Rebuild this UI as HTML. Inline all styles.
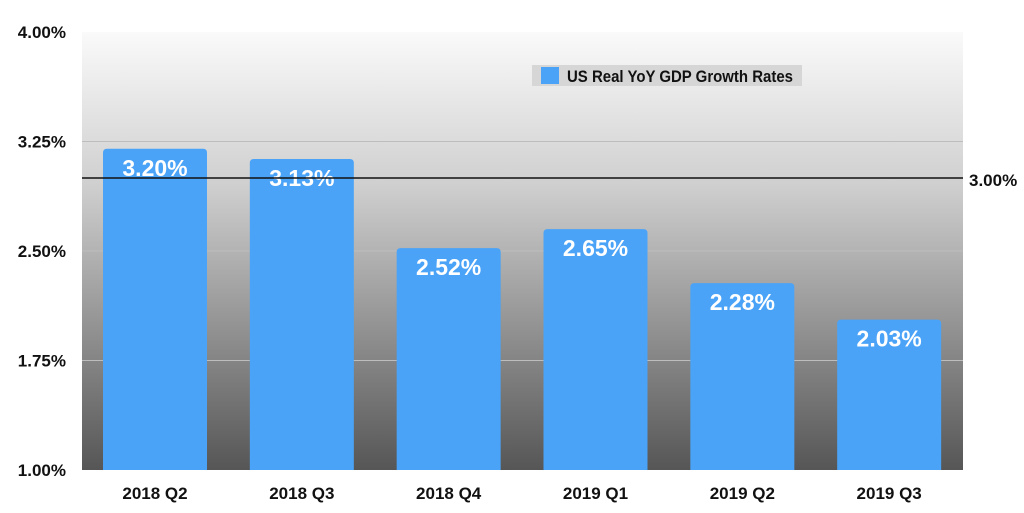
<!DOCTYPE html>
<html><head><meta charset="utf-8"><style>
body{margin:0;background:#fff;width:1024px;height:508px;overflow:hidden}
text{font-family:"Liberation Sans Narrow","Liberation Sans",sans-serif;font-weight:bold}
</style></head><body>
<svg id="chart" width="1024" height="508" xmlns="http://www.w3.org/2000/svg">
<defs><linearGradient id="bg" x1="0" y1="0" x2="0" y2="1">
<stop offset="0" stop-color="#fafafa"/><stop offset="0.35" stop-color="#cfcfcf"/><stop offset="1" stop-color="#565656"/></linearGradient></defs>
<rect x="82" y="32" width="881" height="438" fill="url(#bg)"/>
<g id="grid"></g><g id="bars"></g><g id="labels"></g>
<g>
<rect x="532" y="65" width="270" height="21" fill="#d6d6d6"/>
<rect x="541" y="67" width="18" height="17" fill="#4aa3f7"/>
<text x="567" y="82" font-size="17" fill="#111" textLength="226" lengthAdjust="spacingAndGlyphs">US Real YoY GDP Growth Rates</text>
</g>
</svg>
<script>
const categories=["2018 Q2","2018 Q3","2018 Q4","2019 Q1","2019 Q2","2019 Q3"];
const values=[3.20,3.13,2.52,2.65,2.28,2.03];
const ticks=[1.00,1.75,2.50,3.25,4.00];
const refValue=3.00;
const NS="http://www.w3.org/2000/svg";
const L=82,R=963,T=32,B=470,yMin=1,yMax=4;
const y=v=>B-(v-yMin)/(yMax-yMin)*(B-T);
const slot=(R-L)/categories.length;
const x=i=>L+i*slot;
function mk(t,a,p){const e=document.createElementNS(NS,t);for(const k in a)e.setAttribute(k,a[k]);p.appendChild(e);return e;}
const g=document.getElementById('grid'),bg=document.getElementById('bars'),lg=document.getElementById('labels');
ticks.forEach(t=>{
 if(t>yMin&&t<yMax){const l=mk('line',{x1:L,x2:R,y1:y(t),y2:y(t),stroke:'#bdbdbd','stroke-width':1},g);
 
 }
 const tx=mk('text',{x:66,y:y(t)+6,'font-size':17,'text-anchor':'end',fill:'#111'},lg);
 tx.textContent=t.toFixed(2)+'%';
 
 
});
values.forEach((v,i)=>{
 const bx=x(i)+21,bw=104,top=y(v),r=4;
 const p=mk('path',{d:`M${bx},${B}V${top+r}Q${bx},${top} ${bx+r},${top}H${bx+bw-r}Q${bx+bw},${top} ${bx+bw},${top+r}V${B}Z`,fill:'#4aa3f7'},bg);
 
 
 const vt=mk('text',{x:bx+bw/2,y:top+27,'font-size':23,'text-anchor':'middle',fill:'#fff'},lg);
 vt.textContent=v.toFixed(2)+'%';
 
 
 const ct=mk('text',{x:bx+bw/2,y:499,'font-size':17,'text-anchor':'middle',fill:'#111'},lg);
 ct.textContent=categories[i];
 
 
});
const rl=mk('line',{x1:L,x2:R,y1:y(refValue),y2:y(refValue),stroke:'#111','stroke-width':1.5},lg);


const rt=mk('text',{x:969,y:y(refValue)+8,'font-size':17,fill:'#111'},lg);
rt.textContent=refValue.toFixed(2)+'%';


</script>
</body></html>
